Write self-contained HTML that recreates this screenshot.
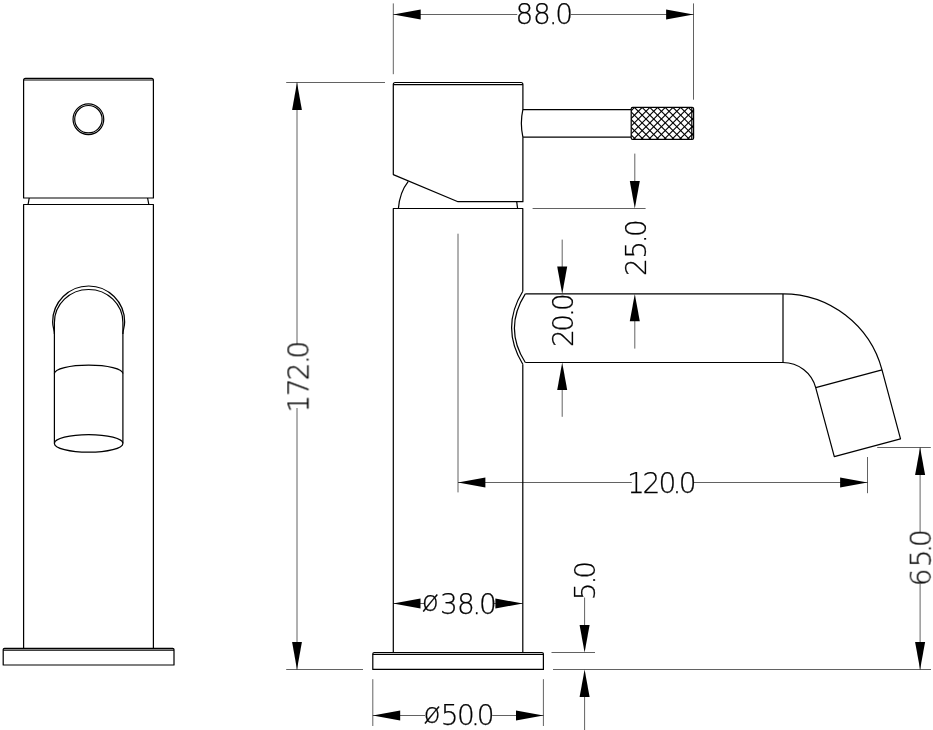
<!DOCTYPE html>
<html lang="en">
<head>
<meta charset="utf-8">
<title>Basin mixer tap – dimension drawing</title>
<style>
html,body{margin:0;padding:0;background:#fff;}
body{width:933px;height:730px;overflow:hidden;}
svg{display:block;}
.o{fill:none;stroke:#000;stroke-width:1.22;stroke-linejoin:round;stroke-linecap:butt;}
.k{stroke:#000;stroke-width:1.12;}
.d{fill:none;stroke:#000;stroke-width:.62;}
.a{fill:#000;stroke:none;}
.t{font-family:"DejaVu Sans Light","DejaVu Sans","Liberation Sans",sans-serif;font-weight:200;font-size:28px;fill:#000;stroke:#000;stroke-width:.25;}
</style>
</head>
<body>
<svg width="933" height="730" viewBox="0 0 933 730">
<rect x="0" y="0" width="933" height="730" fill="#fff"/>
<g id="left-view">
<path class="o" d="M23.6 198 L23.6 80.3 Q23.6 78.4 25.5 78.4 L151.5 78.4 Q153.4 78.4 153.4 80.3 L153.4 198 Z"/>
<line class="o" x1="23.6" y1="80.0" x2="153.4" y2="80.0"/>
<line class="o" x1="29.2" y1="198" x2="28.1" y2="204.5"/>
<line class="o" x1="147.6" y1="198" x2="148.8" y2="204.5"/>
<path class="o" d="M23.6 648.5 L23.6 204.5 L153.4 204.5 L153.4 648.5"/>
<path class="o" d="M3.2 665 L3.2 649.6 Q3.2 648.3 4.5 648.3 L172.7 648.3 Q174 648.3 174 649.6 L174 665 Z"/>
<line class="o" x1="3.2" y1="650.2" x2="174" y2="650.2"/>
<circle class="o" cx="88.4" cy="119.2" r="15.35"/><circle class="o" cx="88.4" cy="119.2" r="13.7"/>
<path class="o" d="M54.4 443.3 L54.4 322.5 A34.25 33 0 0 1 122.9 322.5 L122.9 443.3"/>
<path class="o" d="M54.4 334 C54.4 330 52.65 327 52.65 322 A36 36 0 0 1 124.65 322 C124.65 327 122.9 330 122.9 334"/>
<path class="o" d="M54.4 373.6 A34.25 8.4 0 0 1 122.9 373.6"/>
<ellipse class="o" cx="88.65" cy="443.4" rx="34.25" ry="8.8"/>
</g>
<g id="side-view">
<path class="o" d="M522.9 137.2 L522.9 201.7 L458 201.7 L393.3 174.6 L393.3 84.4 Q393.3 82.5 395.2 82.5 L521 82.5 Q522.9 82.5 522.9 84.4 L522.9 109.4 Q519.8 123.3 522.9 137.2"/>
<line class="o" x1="393.3" y1="84.6" x2="522.9" y2="84.6"/>
<line class="o" x1="522.9" y1="109.55" x2="631.1" y2="109.55"/>
<line class="o" x1="522.9" y1="137.2" x2="631.1" y2="137.2"/>
<clipPath id="kc"><rect x="631.2" y="107.3" width="62.4" height="32.1" rx="1.5"/></clipPath>
<g clip-path="url(#kc)">
<line class="k" x1="629.20" y1="17.50" x2="695.60" y2="83.90"/>
<line class="k" x1="629.20" y1="25.20" x2="695.60" y2="91.60"/>
<line class="k" x1="629.20" y1="32.90" x2="695.60" y2="99.30"/>
<line class="k" x1="629.20" y1="40.60" x2="695.60" y2="107.00"/>
<line class="k" x1="629.20" y1="48.30" x2="695.60" y2="114.70"/>
<line class="k" x1="629.20" y1="56.00" x2="695.60" y2="122.40"/>
<line class="k" x1="629.20" y1="63.70" x2="695.60" y2="130.10"/>
<line class="k" x1="629.20" y1="71.40" x2="695.60" y2="137.80"/>
<line class="k" x1="629.20" y1="79.10" x2="695.60" y2="145.50"/>
<line class="k" x1="629.20" y1="86.80" x2="695.60" y2="153.20"/>
<line class="k" x1="629.20" y1="94.50" x2="695.60" y2="160.90"/>
<line class="k" x1="629.20" y1="102.20" x2="695.60" y2="168.60"/>
<line class="k" x1="629.20" y1="109.90" x2="695.60" y2="176.30"/>
<line class="k" x1="629.20" y1="117.60" x2="695.60" y2="184.00"/>
<line class="k" x1="629.20" y1="125.30" x2="695.60" y2="191.70"/>
<line class="k" x1="629.20" y1="133.00" x2="695.60" y2="199.40"/>
<line class="k" x1="629.20" y1="140.70" x2="695.60" y2="207.10"/>
<line class="k" x1="629.20" y1="148.40" x2="695.60" y2="214.80"/>
<line class="k" x1="629.20" y1="156.10" x2="695.60" y2="222.50"/>
<line class="k" x1="629.20" y1="163.80" x2="695.60" y2="230.20"/>
<line class="k" x1="629.20" y1="81.90" x2="695.60" y2="15.50"/>
<line class="k" x1="629.20" y1="89.60" x2="695.60" y2="23.20"/>
<line class="k" x1="629.20" y1="97.30" x2="695.60" y2="30.90"/>
<line class="k" x1="629.20" y1="105.00" x2="695.60" y2="38.60"/>
<line class="k" x1="629.20" y1="112.70" x2="695.60" y2="46.30"/>
<line class="k" x1="629.20" y1="120.40" x2="695.60" y2="54.00"/>
<line class="k" x1="629.20" y1="128.10" x2="695.60" y2="61.70"/>
<line class="k" x1="629.20" y1="135.80" x2="695.60" y2="69.40"/>
<line class="k" x1="629.20" y1="143.50" x2="695.60" y2="77.10"/>
<line class="k" x1="629.20" y1="151.20" x2="695.60" y2="84.80"/>
<line class="k" x1="629.20" y1="158.90" x2="695.60" y2="92.50"/>
<line class="k" x1="629.20" y1="166.60" x2="695.60" y2="100.20"/>
<line class="k" x1="629.20" y1="174.30" x2="695.60" y2="107.90"/>
<line class="k" x1="629.20" y1="182.00" x2="695.60" y2="115.60"/>
<line class="k" x1="629.20" y1="189.70" x2="695.60" y2="123.30"/>
<line class="k" x1="629.20" y1="197.40" x2="695.60" y2="131.00"/>
<line class="k" x1="629.20" y1="205.10" x2="695.60" y2="138.70"/>
<line class="k" x1="629.20" y1="212.80" x2="695.60" y2="146.40"/>
<line class="k" x1="629.20" y1="220.50" x2="695.60" y2="154.10"/>
<line class="k" x1="629.20" y1="228.20" x2="695.60" y2="161.80"/>
</g>
<rect class="o" x="631.2" y="107.3" width="62.4" height="32.1" rx="1.5"/>
<line class="o" x1="691.8" y1="107.3" x2="691.8" y2="139.4"/>
<path class="o" d="M393.3 652.3 L393.3 208.5 L522.8 208.5 L522.8 291.3"/>
<line class="o" x1="522.8" y1="364.2" x2="522.8" y2="652.3"/>
<path class="o" d="M398.4 208.5 Q399.6 192.5 408.3 181.4"/>
<line class="o" x1="516.7" y1="201.7" x2="517.6" y2="208.5"/>
<path class="o" d="M525.3 293.9 L783 293.9 A102.5 102.5 0 0 1 882.0 369.9 L900.5 438.9 L834.3 456.7 L815.7 387.6 A33.9 33.9 0 0 0 783 362.5 L525.3 362.5"/>
<line class="o" x1="783" y1="293.9" x2="783" y2="362.5"/>
<line class="o" x1="815.7448855111994" y1="387.6260343710245" x2="882.0073971946294" y2="369.8710478769916"/>
<path class="o" d="M522.8 291.3 Q500.4 327.7 522.8 364.2"/>
<path class="o" d="M525.3 293.9 Q503.5 328.2 525.3 362.5"/>
<path class="o" d="M372.8 669.4 L372.8 654 Q372.8 652.5 374.3 652.5 L541.9 652.5 Q543.4 652.5 543.4 654 L543.4 669.4 Z"/>
<line class="o" x1="372.8" y1="654.3" x2="543.4" y2="654.3"/>
</g>
<g id="dimensions">
<line class="d" x1="393.3" y1="3.4" x2="393.3" y2="74.2"/>
<line class="d" x1="693.5" y1="3.4" x2="693.5" y2="99.7"/>
<line class="d" x1="393.3" y1="14.5" x2="517.2" y2="14.5"/>
<line class="d" x1="570.8" y1="14.5" x2="693.5" y2="14.5"/>
<polygon class="a" points="393.3,14.5 420.7,9.6 420.7,19.4"/>
<polygon class="a" points="693.5,14.5 666.1,19.4 666.1,9.6"/>
<line class="d" x1="286.2" y1="82.5" x2="385" y2="82.5"/>
<line class="d" x1="286.2" y1="669.5" x2="363" y2="669.5"/>
<line class="d" x1="297" y1="82.5" x2="297" y2="344.3"/>
<line class="d" x1="297" y1="408" x2="297" y2="669.5"/>
<polygon class="a" points="297.0,82.5 301.9,109.9 292.1,109.9"/>
<polygon class="a" points="297.0,669.5 292.1,642.1 301.9,642.1"/>
<line class="d" x1="532.6" y1="208.5" x2="645.6" y2="208.5"/>
<line class="d" x1="634.8" y1="153.6" x2="634.8" y2="200"/>
<polygon class="a" points="634.8,208.5 629.8,181.1 639.8,181.1"/>
<line class="d" x1="634.8" y1="300" x2="634.8" y2="348.6"/>
<polygon class="a" points="634.8,293.9 639.8,321.3 629.8,321.3"/>
<line class="d" x1="562.2" y1="239.6" x2="562.2" y2="280"/>
<polygon class="a" points="562.2,293.9 557.2,266.5 567.2,266.5"/>
<line class="d" x1="562.2" y1="375" x2="562.2" y2="416.8"/>
<polygon class="a" points="562.2,362.5 567.2,389.9 557.2,389.9"/>
<line class="d" x1="458" y1="233.7" x2="458" y2="492.4"/>
<line class="d" x1="867.5" y1="457" x2="867.5" y2="493.2"/>
<line class="d" x1="458" y1="482.5" x2="631.8" y2="482.5"/>
<line class="d" x1="693.2" y1="482.5" x2="867.5" y2="482.5"/>
<polygon class="a" points="458.0,482.5 485.4,477.6 485.4,487.4"/>
<polygon class="a" points="867.5,482.5 840.1,487.4 840.1,477.6"/>
<line class="d" x1="877.2" y1="447.5" x2="930.8" y2="447.5"/>
<line class="d" x1="553" y1="669.5" x2="931" y2="669.5"/>
<line class="d" x1="920.1" y1="447.5" x2="920.1" y2="532.3"/>
<line class="d" x1="920.1" y1="584" x2="920.1" y2="669.5"/>
<polygon class="a" points="920.1,447.5 925.1,474.9 915.1,474.9"/>
<polygon class="a" points="920.1,669.5 915.1,642.1 925.1,642.1"/>
<line class="d" x1="393.3" y1="603.5" x2="424" y2="603.5"/>
<line class="d" x1="492.8" y1="603.5" x2="522.8" y2="603.5"/>
<polygon class="a" points="393.1,603.5 420.5,598.5 420.5,608.5"/>
<polygon class="a" points="522.8,603.5 495.4,608.5 495.4,598.5"/>
<line class="d" x1="551.5" y1="652.5" x2="595" y2="652.5"/>
<line class="d" x1="584.6" y1="597.5" x2="584.6" y2="640"/>
<polygon class="a" points="584.6,652.5 579.6,625.1 589.6,625.1"/>
<line class="d" x1="584.6" y1="680" x2="584.6" y2="730"/>
<polygon class="a" points="584.6,669.5 589.6,696.9 579.6,696.9"/>
<line class="d" x1="372.8" y1="679.2" x2="372.8" y2="726"/>
<line class="d" x1="543.4" y1="679.2" x2="543.4" y2="726"/>
<line class="d" x1="372.8" y1="715.5" x2="425" y2="715.5"/>
<line class="d" x1="492.2" y1="715.5" x2="543.4" y2="715.5"/>
<polygon class="a" points="372.8,715.5 400.2,710.5 400.2,720.5"/>
<polygon class="a" points="543.4,715.5 516.0,720.5 516.0,710.5"/>
</g>
<g id="labels" opacity="0.999">
<text class="t" x="515.4 533.1 548.8 555.2" y="24.2">88.0</text>
<text class="t" x="627.1 642.4 658.4 672.5 678.7" y="493.0">120.0</text>
<text class="t" x="421.7 439.9 456.9 472.2 478.9" y="611.3 614.0 614.0 614.0 614.0">ø38.0</text>
<text class="t" x="423.4 440.8 456.9 470.9 476.8" y="722.5 725.2 725.2 725.2 725.2">ø50.0</text>
<text class="t" transform="translate(645.7 273.8) rotate(-90)" x="-2.1 15.1 30.6 36.8" y="0">25.0</text>
<text class="t" transform="translate(572.8 344.9) rotate(-90)" x="-2.2 13.2 28.0 33.8" y="0">20.0</text>
<text class="t" transform="translate(308.4 407.4) rotate(-90)" x="-5.2 11.3 27.1 43.3 48.7" y="0">172.0</text>
<text class="t" transform="translate(930.7 583.8) rotate(-90)" x="-2.4 16.4 30.9 36.8" y="0">65.0</text>
<text class="t" transform="translate(595.1 597.8) rotate(-90)" x="-2.4 13.2 19.1" y="0">5.0</text>
</g>
</svg>
</body>
</html>
